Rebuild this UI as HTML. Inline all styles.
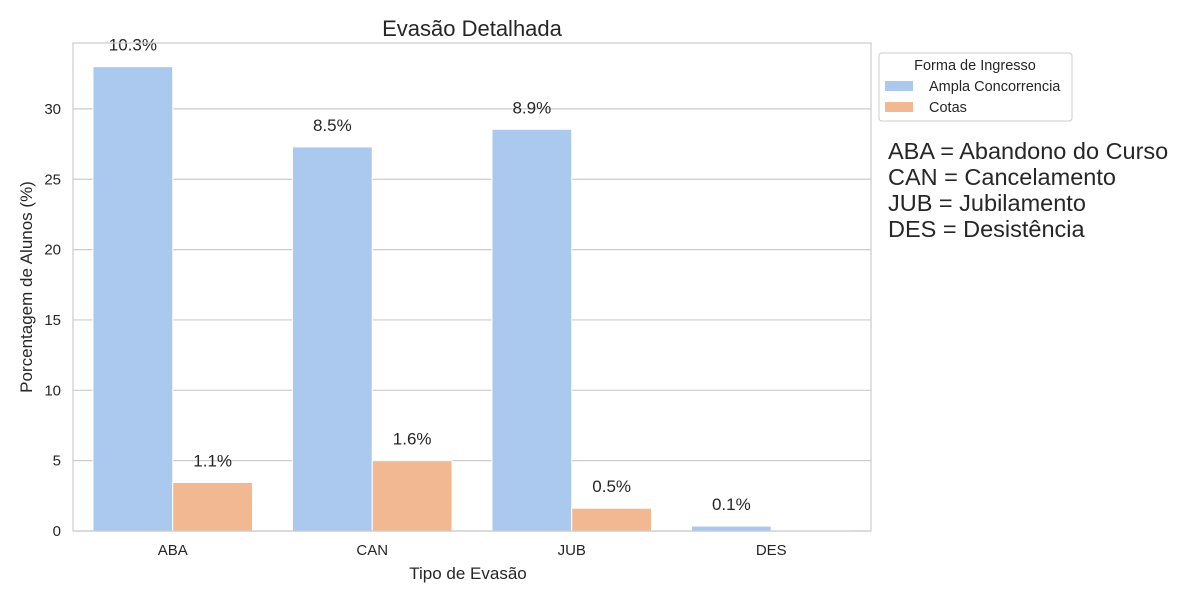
<!DOCTYPE html>
<html><head><meta charset="utf-8"><style>
body{margin:0;background:#fff;font-family:"Liberation Sans","DejaVu Sans",sans-serif;}
svg text{font-family:"Liberation Sans","DejaVu Sans",sans-serif;fill:#262626;}
</style></head><body>
<svg id="chart" width="1200" height="600">
<text x="472" y="36" font-size="22" text-anchor="middle">Evasão Detalhada</text>
<g id="grid"></g><g id="bars"></g><g id="labels"></g><g id="ticks"></g>
<rect x="73" y="43" width="798" height="488" fill="none" stroke="#ccc" stroke-width="1.2"/>
<text x="468" y="579" font-size="17" text-anchor="middle">Tipo de Evasão</text>
<text transform="translate(32,287) rotate(-90)" font-size="17" text-anchor="middle">Porcentagem de Alunos (%)</text>
<g>
<rect x="879" y="53" width="193" height="68" rx="3" fill="#fff" stroke="#ccc"/>
<text x="975" y="70" font-size="14.5" text-anchor="middle">Forma de Ingresso</text>
<rect x="885" y="81" width="28" height="10" fill="#abc9ee"/>
<text x="929" y="91" font-size="14.5">Ampla Concorrencia</text>
<rect x="885" y="102" width="28" height="10" fill="#f1b891"/>
<text x="929" y="112" font-size="14.5">Cotas</text>
</g>
<g font-size="23.5">
<text x="888" y="159">ABA = Abandono do Curso</text>
<text x="888" y="185">CAN = Cancelamento</text>
<text x="888" y="211">JUB = Jubilamento</text>
<text x="888" y="237">DES = Desistência</text>
</g>
</svg>
<script>
const categories=["ABA","CAN","JUB","DES"];
const amplaValues=[33.0,27.3,28.55,0.35];
const cotasValues=[3.45,5.0,1.62,0.05];
const amplaLabels=["10.3%","8.5%","8.9%","0.1%"];
const cotasLabels=["1.1%","1.6%","0.5%",""];
const yTicks=[0,5,10,15,20,25,30];
const NS="http://www.w3.org/2000/svg";
const x0=73,pw=798,y0=531,ppu=14.07;
const y=v=>y0-v*ppu;
const gw=pw/categories.length,bw=gw*0.4;
function el(t,a,p){const e=document.createElementNS(NS,t);for(const k in a)e.setAttribute(k,a[k]);document.getElementById(p).appendChild(e);return e;}
yTicks.forEach(t=>{
 const l=el("line",{x1:x0,x2:x0+pw,y1:y(t),y2:y(t),stroke:"#ccc","stroke-width":1.2},"grid");
 
 
 const tx=el("text",{x:x0-12,y:y(t)+5,"font-size":15,"text-anchor":"end"},"ticks");tx.textContent=t;
 
 
});
categories.forEach((c,i)=>{
 const cx=x0+gw*(i+0.5);
 const tx=el("text",{x:cx,y:555,"font-size":15,"text-anchor":"middle"},"ticks");tx.textContent=c;
 
 
 [[amplaValues,amplaLabels,"#abc9ee",cx-bw],[cotasValues,cotasLabels,"#f1b891",cx]].forEach(([vals,labs,col,bx],s)=>{
  const r=el("rect",{x:bx,y:y(vals[i]),width:bw,height:vals[i]*ppu,fill:col,stroke:"#fff","stroke-width":1},"bars");
  
  
  if(labs[i]){const t=el("text",{x:bx+bw/2,y:y(vals[i])-16,"font-size":17,"text-anchor":"middle"},"labels");t.textContent=labs[i];
  
  }
 });
});
</script>
</body></html>
